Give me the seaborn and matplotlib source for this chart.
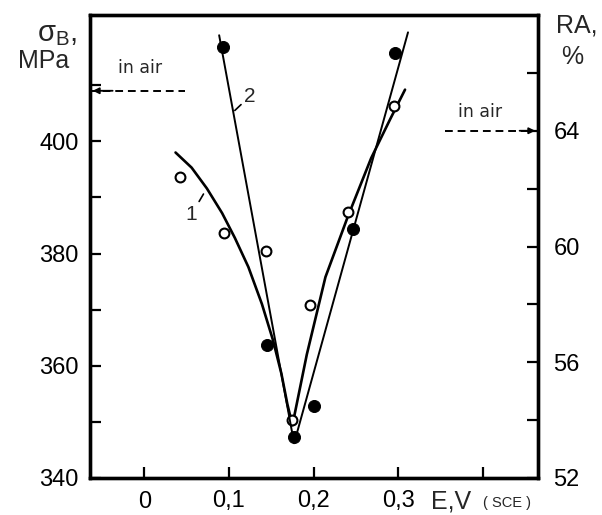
import matplotlib
matplotlib.use("Agg")
import matplotlib.pyplot as plt
import seaborn as sns
import pandas as pd

# open circles (curve 1) -> tensile strength, left axis
e_open = [0.042, 0.094, 0.144, 0.175, 0.196, 0.241, 0.295]
sigma_open = [393.7, 383.7, 380.5, 350.3, 370.8, 387.4, 406.2]

# filled circles (curve 2) -> reduction of area, right axis
e_filled = [0.093, 0.145, 0.177, 0.200, 0.247, 0.296]
ra_filled = [66.9, 56.6, 53.4, 54.5, 60.6, 66.7]

# hand drawn curve 1
e_curve1 = [0.037, 0.056, 0.074, 0.092, 0.107, 0.123, 0.139, 0.152, 0.162,
            0.169, 0.175, 0.192, 0.214, 0.240, 0.268, 0.290, 0.308]
sigma_curve1 = [398.0, 395.3, 391.6, 387.2, 382.8, 377.6, 371.0, 364.6, 358.6,
                353.2, 349.4, 362.0, 375.8, 386.4, 397.0, 403.8, 409.2]

# straight lines of curve 2
e_curve2 = [0.0885, 0.177, 0.3115]
ra_curve2 = [67.3, 53.2, 67.4]

# values in air
sigma_air = 409
ra_air = 64

x_ticks = [0, 0.1, 0.2, 0.3, 0.4]
x_ticklabels = ["0", "0,1", "0,2", "0,3", ""]
sigma_ticks = [340, 360, 380, 400]
ra_ticks = [52, 56, 60, 64]

sns.set_style("ticks")
plt.rcParams["font.family"] = ["Liberation Sans", "DejaVu Sans"]

fig = plt.figure(figsize=(6.02, 5.15), dpi=100)
ax = fig.add_axes([90 / 602, 37 / 515, 448 / 602, 463 / 515])
ax2 = ax.twinx()

xmin, xmax = -0.064, 0.465
ax.set_xlim(xmin, xmax)
ax.set_ylim(340, 422.5)
ax2.set_ylim(52, 68.0)

curve1 = pd.DataFrame({"E": e_curve1, "sigma": sigma_curve1})
curve2 = pd.DataFrame({"E": e_curve2, "RA": ra_curve2})
pts_open = pd.DataFrame({"E": e_open, "sigma": sigma_open})
pts_filled = pd.DataFrame({"E": e_filled, "RA": ra_filled})

sns.lineplot(data=curve1, x="E", y="sigma", ax=ax, color="black", lw=1.9,
             sort=False, estimator=None)
sns.lineplot(data=curve2, x="E", y="RA", ax=ax2, color="black", lw=1.4,
             sort=False, estimator=None)
sns.scatterplot(data=pts_open, x="E", y="sigma", ax=ax, marker="o", s=50,
                facecolor="white", edgecolor="black", linewidth=1.5, zorder=5)
sns.scatterplot(data=pts_filled, x="E", y="RA", ax=ax2, marker="o", s=75,
                color="black", edgecolor="black", zorder=5)

# "in air" reference levels
ax.plot([xmin, 0.048], [sigma_air, sigma_air], color="black", lw=1.4,
        dashes=(4, 2.5))
ax.annotate("", xy=(xmin, sigma_air), xytext=(xmin + 0.03, sigma_air),
            arrowprops=dict(arrowstyle="-|>", color="black", lw=1.3,
                            mutation_scale=9))
ax.text(-0.005, 411.5, "in air", fontsize=12.5, ha="center", va="bottom",
        family="DejaVu Sans")
ax2.plot([0.355, xmax], [ra_air, ra_air], color="black", lw=1.4,
         dashes=(4, 2.5))
ax2.annotate("", xy=(xmax, ra_air), xytext=(xmax - 0.025, ra_air),
             arrowprops=dict(arrowstyle="-|>", color="black", lw=1.3,
                             mutation_scale=9))
ax2.text(0.397, 64.35, "in air", fontsize=12.5, ha="center", va="bottom",
         family="DejaVu Sans")

# curve labels
ax.annotate("1", xy=(0.070, 390.6), xytext=(0.056, 387.0), fontsize=15,
            ha="center", va="center",
            arrowprops=dict(arrowstyle="-", color="black", lw=1.2,
                            shrinkA=7, shrinkB=0))
ax2.annotate("2", xy=(0.107, 64.7), xytext=(0.125, 65.2), fontsize=15,
             ha="center", va="center",
             arrowprops=dict(arrowstyle="-", color="black", lw=1.2,
                             shrinkA=7, shrinkB=0))

# axes, ticks
ax.set_xticks(x_ticks)
ax.set_xticklabels(x_ticklabels)
ax.set_yticks(sigma_ticks)
ax.set_yticks([350, 370, 390, 410], minor=True)
ax2.set_yticks(ra_ticks)
ax2.set_yticks([54, 58, 62, 66], minor=True)
ax.set_xlabel("")
ax.set_ylabel("")
ax2.set_ylabel("")

for a in (ax, ax2):
    for s in a.spines.values():
        s.set_visible(True)
        s.set_linewidth(2.4)
        s.set_color("black")
    a.tick_params(which="both", direction="in", length=8, width=1.6,
                  labelsize=17, colors="black")
ax.tick_params(axis="x", pad=9)
ax.tick_params(axis="y", pad=8)
ax2.tick_params(axis="y", pad=11)

fig.text(57 / 602, 1 - 34 / 515, r"$\mathregular{\sigma_B}$,", fontsize=21,
         ha="center", va="center")
fig.text(44 / 602, 1 - 61 / 515, "MPa", fontsize=18, ha="center", va="center")
fig.text(577 / 602, 1 - 26 / 515, "RA,", fontsize=18, ha="center", va="center")
fig.text(572 / 602, 1 - 57 / 515, "%", fontsize=18, ha="center", va="center")
fig.text(451 / 602, 1 - 501 / 515, "E,V", fontsize=18, ha="center",
         va="center")
fig.text(507 / 602, 1 - 503 / 515, "( SCE )", fontsize=10.5, ha="center",
         va="center")

fig.savefig("out.png", dpi=100)
